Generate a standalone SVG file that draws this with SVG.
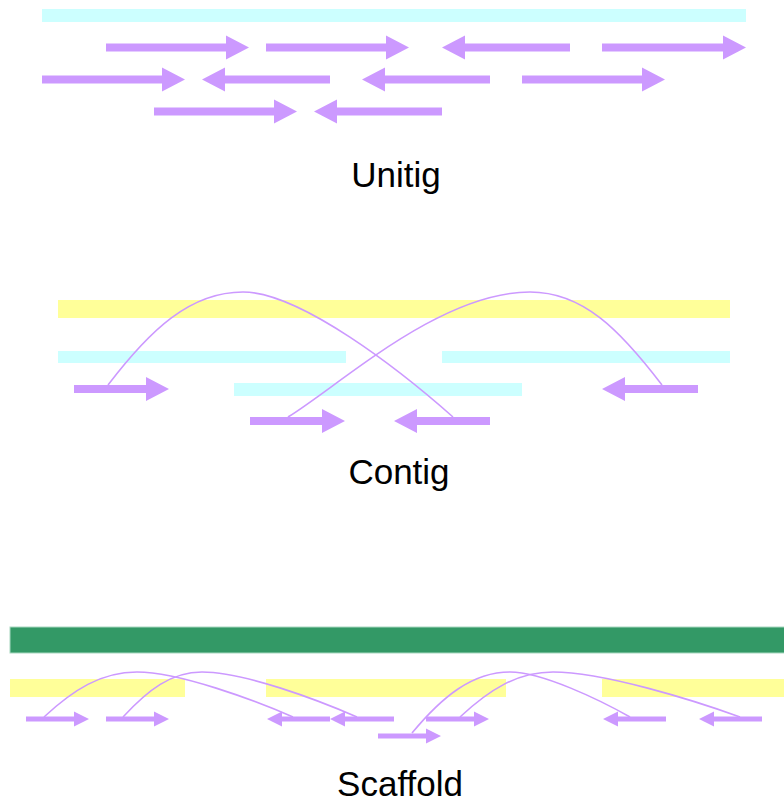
<svg xmlns="http://www.w3.org/2000/svg" width="784" height="801" viewBox="0 0 784 801">
<style>
.cyan{fill:#ccffff}
.yellow{fill:#ffff99}
.green{fill:#339966;stroke:#a8d8c0;stroke-width:1}
.read{fill:#cc99ff}
.link{fill:none;stroke:#cc99ff;stroke-width:1.6}
.label{font-family:"Liberation Sans",Arial,sans-serif;font-size:35px;fill:#000;text-anchor:middle}
</style>
<rect width="784" height="801" fill="#ffffff"/>
<g id="unitig">
  <rect id="u-bar" class="cyan" x="42" y="9" width="704" height="13"/>
  <g id="u-reads" class="read">
    <path id="u1" d="M106,43.5 H226 V35.5 L249,47.5 L226,59.5 V51.5 H106 Z"/>
    <path id="u2" d="M266,43.5 H386 V35.5 L409,47.5 L386,59.5 V51.5 H266 Z"/>
    <path id="u3" d="M570,43.5 H465 V35.5 L442,47.5 L465,59.5 V51.5 H570 Z"/>
    <path id="u4" d="M602,43.5 H723 V35.5 L746,47.5 L723,59.5 V51.5 H602 Z"/>
    <path id="u5" d="M42,75.5 H162 V67.5 L185,79.5 L162,91.5 V83.5 H42 Z"/>
    <path id="u6" d="M330,75.5 H225 V67.5 L202,79.5 L225,91.5 V83.5 H330 Z"/>
    <path id="u7" d="M490,75.5 H385 V67.5 L362,79.5 L385,91.5 V83.5 H490 Z"/>
    <path id="u8" d="M522,75.5 H642 V67.5 L665,79.5 L642,91.5 V83.5 H522 Z"/>
    <path id="u9" d="M154,107.5 H274 V99.5 L297,111.5 L274,123.5 V115.5 H154 Z"/>
    <path id="u10" d="M442,107.5 H337 V99.5 L314,111.5 L337,123.5 V115.5 H442 Z"/>
  </g>
  <text id="u-label" class="label" x="396" y="187">Unitig</text>
</g>
<g id="contig">
  <rect id="c-bar" class="yellow" x="58" y="300" width="672" height="18"/>
  <rect id="c-u1" class="cyan" x="58" y="351" width="288" height="12"/>
  <rect id="c-u2" class="cyan" x="442" y="351" width="288" height="12"/>
  <rect id="c-u3" class="cyan" x="234" y="383" width="288" height="13"/>
  <g id="c-reads" class="read">
    <path id="c1" d="M74,385 H146 V377 L169,389 L146,401 V393 H74 Z"/>
    <path id="c2" d="M250,417 H322 V409 L345,421 L322,433 V425 H250 Z"/>
    <path id="c3" d="M490,417 H417 V409 L394,421 L417,433 V425 H490 Z"/>
    <path id="c4" d="M698,385 H625 V377 L602,389 L625,401 V393 H698 Z"/>
  </g>
  <text id="c-label" class="label" x="399" y="484">Contig</text>
</g>
<g id="scaffold">
  <rect id="s-bar" class="green" x="10" y="627" width="780" height="26"/>
  <rect id="s-c1" class="yellow" x="10" y="679" width="175" height="18"/>
  <rect id="s-c2" class="yellow" x="266" y="679" width="240" height="18"/>
  <rect id="s-c3" class="yellow" x="602" y="679" width="182" height="18"/>
  <g id="s-reads" class="read">
    <path id="s1" d="M26,716.5 H74 V711.5 L89,719 L74,726.5 V721.5 H26 Z"/>
    <path id="s2" d="M106,716.5 H154 V711.5 L169,719 L154,726.5 V721.5 H106 Z"/>
    <path id="s3" d="M330,716.5 H282 V711.5 L267,719 L282,726.5 V721.5 H330 Z"/>
    <path id="s4" d="M394,716.5 H345 V711.5 L330,719 L345,726.5 V721.5 H394 Z"/>
    <path id="s5" d="M378,733.5 H426 V728.5 L441,736 L426,743.5 V738.5 H378 Z"/>
    <path id="s6" d="M426,716.5 H474 V711.5 L489,719 L474,726.5 V721.5 H426 Z"/>
    <path id="s7" d="M666,716.5 H618 V711.5 L603,719 L618,726.5 V721.5 H666 Z"/>
    <path id="s8" d="M762,716.5 H714 V711.5 L699,719 L714,726.5 V721.5 H762 Z"/>
  </g>
  <text id="s-label" class="label" x="400" y="796">Scaffold</text>
</g>
<g id="connectors">
  <path class="link" d="M108,385 C150,330 190,292 243,292 C300,292 400,370 453,417"/>
  <path class="link" d="M288,417 C340,385 440,292 530,292 C583,292 620,330 662,385"/>
  <path class="link" d="M44,717 C73,690 101,672 137,672 C179,672 254,700 293,717"/>
  <path class="link" d="M123,717 C148,690 171,672 202,672 C244,672 318,700 357,717"/>
  <path class="link" d="M412,733 C442,697 472,672 510,672 C542,672 600,700 630,717"/>
  <path class="link" d="M460,717 C489,690 517,672 553,672 C603,672 693,700 740,717"/>
</g>
</svg>
